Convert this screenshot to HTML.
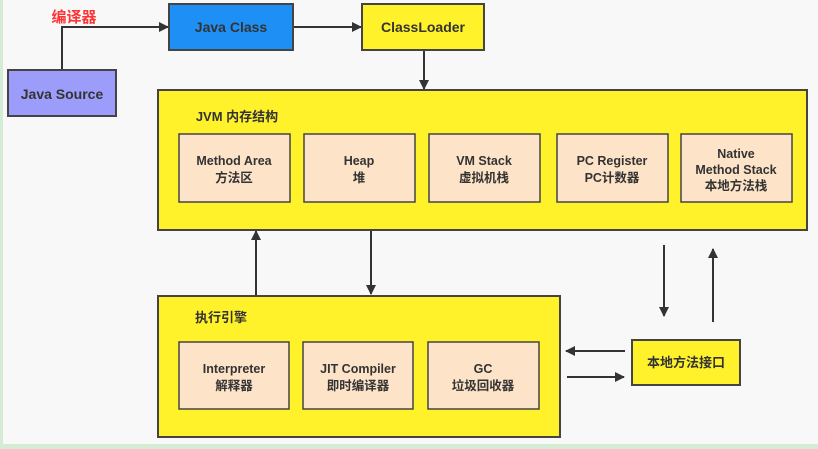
<!DOCTYPE html>
<html><head><meta charset="utf-8"><style>
html,body{margin:0;padding:0;width:818px;height:449px;overflow:hidden;background:#f8f8f8}
svg{display:block}
text{font-family:"Liberation Sans","Noto Sans CJK SC",sans-serif;font-weight:bold;fill:#333;text-anchor:middle}
</style></head><body>
<svg width="818" height="449" viewBox="0 0 818 449">
<defs><marker id="a" markerWidth="10" markerHeight="10" refX="9" refY="5" orient="auto" markerUnits="userSpaceOnUse"><path d="M0,0 L10,5 L0,10 z" fill="#333"/></marker></defs>
<rect x="0" y="0" width="3" height="449" fill="#d4ecd4"/>
<rect x="0" y="444" width="818" height="5" fill="#d4ecd4"/>
<g stroke="#333" stroke-width="2" fill="none">
<polyline points="62,70 62,27 168,27" marker-end="url(#a)"/>
<line x1="293" y1="27" x2="361" y2="27" marker-end="url(#a)"/>
<line x1="424" y1="51" x2="424" y2="89" marker-end="url(#a)"/>
<line x1="256" y1="295" x2="256" y2="231" marker-end="url(#a)"/>
<line x1="371" y1="230" x2="371" y2="294" marker-end="url(#a)"/>
<line x1="664" y1="245" x2="664" y2="316" marker-end="url(#a)"/>
<line x1="713" y1="322" x2="713" y2="249" marker-end="url(#a)"/>
<line x1="625" y1="351" x2="566" y2="351" marker-end="url(#a)"/>
<line x1="567" y1="377" x2="624" y2="377" marker-end="url(#a)"/>
</g>
<g stroke="#444" stroke-width="2">
<rect x="8" y="70" width="108" height="46" fill="#9c9cfa"/>
<rect x="169" y="4" width="124" height="46" fill="#1e90f5"/>
<rect x="362" y="4" width="122" height="46" fill="#fff22a"/>
<rect x="158" y="90" width="649" height="140" fill="#fff22a"/>
<rect x="158" y="296" width="402" height="141" fill="#fff22a"/>
<rect x="632" y="340" width="108" height="45" fill="#fff22a"/>
<g fill="#fde3c8" stroke-width="1.5">
<rect x="179" y="134" width="111" height="68"/><rect x="304" y="134" width="111" height="68"/>
<rect x="429" y="134" width="111" height="68"/><rect x="557" y="134" width="111" height="68"/>
<rect x="681" y="134" width="111" height="68"/>
<rect x="179" y="342" width="110" height="67"/><rect x="303" y="342" width="110" height="67"/>
<rect x="428" y="342" width="111" height="67"/>
</g></g>
<text x="74" y="22" style="fill:#f33;font-size:15px">编译器</text>
<text x="62" y="99" font-size="14">Java Source</text>
<text x="231" y="32" font-size="14">Java Class</text>
<text x="423" y="32" font-size="14">ClassLoader</text>
<text x="237" y="121" font-size="13">JVM 内存结构</text>
<text x="221" y="322" font-size="13">执行引擎</text>
<text x="686" y="367" font-size="13">本地方法接口</text>
<g font-size="12.5">
<text x="234" y="165">Method Area</text><text x="234" y="182">方法区</text>
<text x="359" y="165">Heap</text><text x="359" y="182">堆</text>
<text x="484" y="165">VM Stack</text><text x="484" y="182">虚拟机栈</text>
<text x="612" y="165">PC Register</text><text x="612" y="182">PC计数器</text>
<text x="736" y="158">Native</text><text x="736" y="174">Method Stack</text><text x="736" y="190">本地方法栈</text>
<text x="234" y="373">Interpreter</text><text x="234" y="390">解释器</text>
<text x="358" y="373">JIT Compiler</text><text x="358" y="390">即时编译器</text>
<text x="483" y="373">GC</text><text x="483" y="390">垃圾回收器</text>
</g>
</svg>
</body></html>
